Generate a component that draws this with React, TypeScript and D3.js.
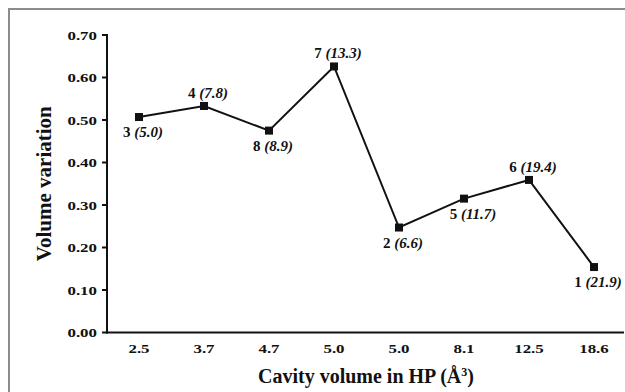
import React from 'react'
import * as d3 from 'd3'

const cavityVolumes = ['2.5', '3.7', '4.7', '5.0', '5.0', '8.1', '12.5', '18.6']
const volumeVariation = [0.507, 0.533, 0.475, 0.626, 0.247, 0.315, 0.359, 0.154]
const pointIds = ['3', '4', '8', '7', '2', '5', '6', '1']
const pointNotes = ['5.0', '7.8', '8.9', '13.3', '6.6', '11.7', '19.4', '21.9']
const labelAbove = [false, true, false, true, false, false, true, false]
const yTicks = [0, 0.1, 0.2, 0.3, 0.4, 0.5, 0.6, 0.7]

const width = 625
const height = 392
const margin = { top: 35, right: 0, bottom: 59, left: 107 }
const font = '"Liberation Serif", "Times New Roman", serif'

export default function App() {
	const x = d3
		.scaleBand()
		.domain(cavityVolumes.map((_, i) => String(i)))
		.range([106.5, 626.5])
	const y = d3
		.scaleLinear()
		.domain([0, 0.7])
		.range([height - margin.bottom - 0.5, margin.top])

	const cx = (i: number) => (x(String(i)) as number) + x.bandwidth() / 2
	const line = d3
		.line<number>()
		.x((_, i) => cx(i))
		.y(d => y(d))

	const xEnd = 624
	const y0 = y(0)

	return (
		<svg
			width={width}
			height={height}
			style={{ position: 'absolute', left: 0, top: 0, background: '#fff' }}
			fontFamily={font}
			fontWeight="bold"
		>
			<rect x={9} y={9} width={700} height={500} fill="none" stroke="#8c8c8c" strokeWidth={2} />

			{/* y axis */}
			<line x1={margin.left} x2={margin.left} y1={margin.top - 1} y2={y0 + 1} stroke="#111" strokeWidth={2} />
			{yTicks.map(t => (
				<g key={t}>
					<line x1={margin.left - 5} x2={margin.left} y1={y(t)} y2={y(t)} stroke="#111" strokeWidth={2} />
					<text
						transform={`translate(97,${y(t) + 4.5}) scale(1.3,1)`}
						textAnchor="end"
						fontSize={13}
						fill="#111"
					>
						{t.toFixed(2)}
					</text>
				</g>
			))}
			<text
				transform={`translate(51,${(margin.top + y0) / 2}) rotate(-90)`}
				textAnchor="middle"
				fontSize={21}
				fill="#111"
			>
				Volume variation
			</text>

			{/* x axis */}
			<line x1={margin.left - 1} x2={xEnd} y1={y0} y2={y0} stroke="#111" strokeWidth={2} />
			{cavityVolumes.map((c, i) => (
				<text
					key={i}
					transform={`translate(${cx(i)},353) scale(1.3,1)`}
					textAnchor="middle"
					fontSize={13}
					fill="#111"
				>
					{c}
				</text>
			))}
			<text x={366} y={383} textAnchor="middle" fontSize={20} fill="#111">
				Cavity volume in HP (Å<tspan fontSize={12} dy={-7}>3</tspan>
				<tspan dy={7}>)</tspan>
			</text>

			{/* series */}
			<path d={line(volumeVariation) as string} fill="none" stroke="#111" strokeWidth={2} />
			{volumeVariation.map((v, i) => (
				<rect key={i} x={cx(i) - 4} y={y(v) - 4} width={8} height={8} fill="#111" />
			))}
			{volumeVariation.map((v, i) => (
				<text
					key={i}
					x={cx(i) + (i === 5 ? 9 : 4)}
					y={y(v) + (labelAbove[i] ? -8 : 20)}
					textAnchor="middle"
					fontSize={15}
					fill="#111"
				>
					{pointIds[i]} <tspan fontStyle="italic">({pointNotes[i]})</tspan>
				</text>
			))}
		</svg>
	)
}
